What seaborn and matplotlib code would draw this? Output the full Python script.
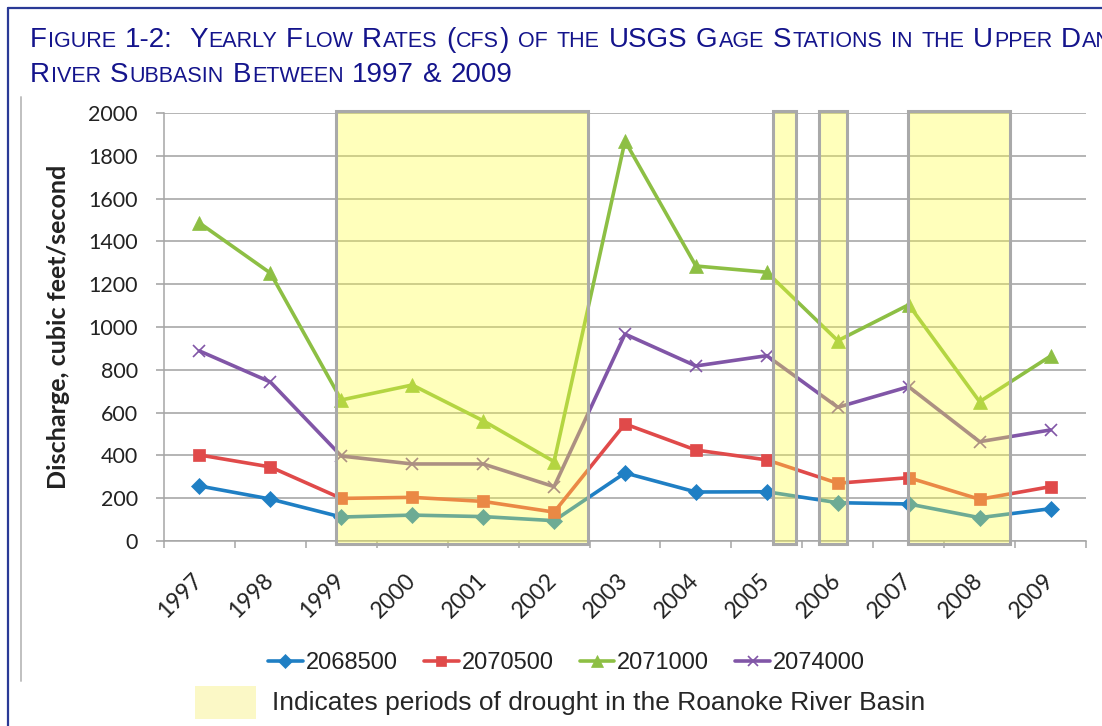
import numpy as np
import pandas as pd
import matplotlib
matplotlib.use("Agg")
import matplotlib.pyplot as plt
import seaborn as sns
from matplotlib.patches import Rectangle
from matplotlib.lines import Line2D

# Data
years = ["1997", "1998", "1999", "2000", "2001", "2002", "2003",
         "2004", "2005", "2006", "2007", "2008", "2009"]
stations = ["2068500", "2070500", "2071000", "2074000"]
flow_2068500 = [257, 196, 112, 121, 114, 95, 318, 229, 230, 179, 173, 109, 151]
flow_2070500 = [402, 346, 199, 204, 185, 135, 547, 425, 379, 270, 296, 195, 254]
flow_2071000 = [1486, 1252, 659, 729, 562, 371, 1869, 1285, 1256, 936, 1104, 651, 864]
flow_2074000 = [888, 743, 397, 360, 360, 254, 967, 818, 866, 625, 721, 464, 519]

# drought periods, in category-index units along the x axis
drought_start = [1.93, 8.09, 8.74, 9.99]
drought_end = [5.48, 8.41, 9.13, 11.43]

colors = ["#1f7fc4", "#e04a4a", "#8dbf44", "#8156a7"]
markers = ["D", "s", "^", "x"]
msizes = [8, 9, 10, 9]

df = pd.DataFrame({
    "year": years * 4,
    "station": np.repeat(stations, len(years)),
    "flow": flow_2068500 + flow_2070500 + flow_2071000 + flow_2074000,
})

sns.set_style("white")
plt.rcParams["font.family"] = ["Lato", "DejaVu Sans"]

W, H = 1102, 726
fig = plt.figure(figsize=(W / 100, H / 100), dpi=100)
ax = fig.add_axes([164 / W, 1 - 541 / H, (1086 - 164) / W, (541 - 113) / H])

sns.lineplot(data=df, x="year", y="flow", hue="station", palette=colors,
             linewidth=2.6, legend=False, ax=ax, zorder=3)
for line, c, m, ms in zip(ax.lines, colors, markers, msizes):
    line.set_marker(m)
    line.set_markeredgecolor(c)
    line.set_markerfacecolor(c)
    line.set_markersize(ms)
    line.set_markeredgewidth(1.2 if m == "x" else 0.5)

# drought boxes laid over the lines
for x0, x1 in zip(drought_start, drought_end):
    ax.add_patch(Rectangle((x0, -14), x1 - x0, 2024, facecolor=(1, 1, 0.24, 0.35),
                           edgecolor="#a9a9a9", linewidth=2.2, zorder=4, clip_on=False))

ax.set_xlim(-0.5, len(years) - 0.5)
ax.set_ylim(0, 2000)
ax.set_yticks(range(0, 2001, 200))
ax.set_xticks(range(len(years)))
ax.set_xticks(np.arange(-0.5, len(years)), minor=True)
ax.set_xticklabels(years, rotation=45, ha="right", va="center", rotation_mode="anchor")
ax.set_xlabel("")
ax.set_ylabel("")
ax.grid(axis="y", color="#a0a0a0", linewidth=1.1, zorder=1)
ax.set_axisbelow(True)
for s in ["top", "right"]:
    ax.spines[s].set_visible(False)
for s in ["left", "bottom"]:
    ax.spines[s].set_color("#a6a6a6")
    ax.spines[s].set_linewidth(1.1)
ax.tick_params(axis="y", length=5.8, width=1.1, color="#a0a0a0", pad=13,
               labelsize=15.5, labelcolor="#222222", left=True)
ax.tick_params(axis="x", which="major", length=0, pad=26, labelsize=16.5,
               labelcolor="#222222", bottom=True)
ax.tick_params(axis="x", which="minor", length=5, width=1.1, color="#a6a6a6", bottom=True)

fig.text(59 / W, 1 - 327 / H, "Discharge, cubic feet/second", rotation=90,
         ha="center", va="center", fontsize=18, fontweight="bold", color="#222222")

# legend for the stations
handles = [Line2D([], [], color=c, marker=m, markersize=ms * 0.85, linewidth=2.6,
                  markeredgecolor=c, markeredgewidth=1.2 if m == "x" else 0.5)
           for c, m, ms in zip(colors, markers, msizes)]
fig.legend(handles, stations, ncol=4, loc="center left",
           bbox_to_anchor=(268 / W, 1 - 663 / H), frameon=False, borderpad=0,
           borderaxespad=0, handlelength=1.48, handletextpad=0.12, columnspacing=1.1,
           prop={"family": "Liberation Sans", "size": 17}, labelcolor="#222222")

# drought legend
fig.patches.append(Rectangle((195 / W, 1 - 719 / H), 61 / W, 33 / H,
                             transform=fig.transFigure, facecolor="#fbf8c6",
                             edgecolor="none"))
fig.text(272 / W, 1 - 703 / H, "Indicates periods of drought in the Roanoke River Basin",
         ha="left", va="center", fontsize=19, family="Liberation Sans", color="#262626")

# frame lines
fig.add_artist(Line2D([8 / W, 8 / W], [0, 1 - 8 / H], color="#2a3a96", linewidth=1.6,
                      transform=fig.transFigure))
fig.add_artist(Line2D([8 / W, 1], [1 - 8 / H, 1 - 8 / H], color="#2a3a96", linewidth=1.6,
                      transform=fig.transFigure))
fig.add_artist(Line2D([21 / W, 21 / W], [1 - 681 / H, 1 - 97 / H], color="#c0c0c0",
                      linewidth=1.4, transform=fig.transFigure))

# small-caps title
renderer = fig.canvas.get_renderer()


def small_caps(x_px, y_px, s, big=20, small=15.5):
    x = x_px
    space = big * 1.389 * 0.28
    for word in s.split(" "):
        if word:
            runs = []
            for ch in word:
                low = ch.islower()
                if runs and runs[-1][1] == low:
                    runs[-1][0] += ch
                else:
                    runs.append([ch, low])
            for run, low in runs:
                t = fig.text(x / W, 1 - y_px / H, run.upper() if low else run,
                             fontsize=small if low else big, family="Liberation Sans",
                             color="#14148c", ha="left", va="baseline")
                x += t.get_window_extent(renderer).width + 1
        x += space


small_caps(30, 47, "Figure 1-2:  Yearly Flow Rates (cfs) of the USGS Gage Stations in the Upper Dan")
small_caps(30, 82, "River Subbasin Between 1997 & 2009")

fig.savefig("out.png", dpi=100)
